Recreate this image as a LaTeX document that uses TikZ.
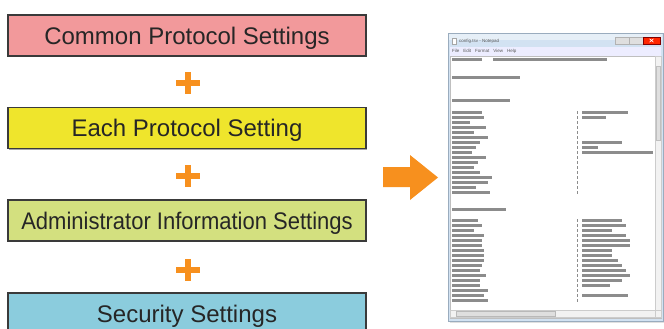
\documentclass[tikz,border=0pt]{standalone}
\usepackage{fontspec}
\setmainfont{Liberation Sans}
\usetikzlibrary{shadows}
\definecolor{pinkc}{HTML}{F2999B}
\definecolor{yellowc}{HTML}{EFE52C}
\definecolor{greenc}{HTML}{D3E07F}
\definecolor{bluec}{HTML}{8BCCDD}
\definecolor{orangec}{HTML}{F7901E}
\definecolor{borderc}{HTML}{3A3A3A}
\definecolor{framec}{HTML}{D2E2F2}
\definecolor{frameline}{HTML}{9AACBE}
\definecolor{txtc}{HTML}{8C8C8C}
\tikzset{
  setbox/.style={draw=borderc, line width=1.4pt, inner sep=0pt,
    minimum width=358pt, minimum height=41pt, text height=17.5pt, text depth=0pt,
    font=\fontsize{24}{28}\selectfont, text=black!85,
    drop shadow={shadow xshift=1pt, shadow yshift=-1pt, opacity=0.35, fill=black}},
  plusbar/.style={fill=orangec},
  txt/.style={fill=txtc},
  tiny/.style={font=\fontsize{4.5}{5}\selectfont, text=black!65, inner sep=0pt, anchor=west}
}
\begin{document}
\begin{tikzpicture}[x=1pt,y=-1pt]
\useasboundingbox (0,0) rectangle (664,329);
\clip (0,0) rectangle (664,329);
% boxes
\node[setbox, fill=pinkc]   (common) at (187,35.5)  {Common Protocol Settings};
\node[setbox, fill=yellowc] (each)   at (187,128)   {Each Protocol Setting};
\node[setbox, fill=greenc]  (admin)  at (187,220.5) {\scalebox{0.917}[1]{Administrator Information Settings}};
\node[setbox, fill=bluec]   (sec)    at (187,313.5) {Security Settings};
% plus signs
\foreach \py in {83,176,270} {
  \fill[plusbar] (176,\py-3) rectangle (200,\py+3);
  \fill[plusbar] (185,\py-11) rectangle (191,\py+11);
}
% big arrow
\fill[orangec] (383,167) -- (410,167) -- (410,155) -- (438,177.5) -- (410,200) -- (410,187) -- (383,187) -- cycle;
% notepad window
\fill[black, opacity=0.12] (449.5,34.5) rectangle (664,322.5);
\filldraw[fill=framec, draw=frameline, line width=0.6pt] (448,33) rectangle (663,321);
\fill[white, opacity=0.45] (449,34) rectangle (662,40);
% title icon and text
\filldraw[fill=white, draw=gray!70, line width=0.3pt] (452,38) rectangle (456,44);
\node[tiny] (title) at (459,41) {config.tsv - Notepad};
% window buttons
\filldraw[fill=gray!25, draw=gray!60, line width=0.3pt] (615,37) rectangle (629,44);
\filldraw[fill=gray!25, draw=gray!60, line width=0.3pt] (629,37) rectangle (643,44);
\filldraw[fill=red!70!orange, draw=red!50!black, line width=0.3pt] (643,37) rectangle (660,44);
\draw[white, line width=0.6pt] (649.5,38.8) -- (653.5,42.2) (649.5,42.2) -- (653.5,38.8);
% menu bar
\fill[white!93!blue] (450,47) rectangle (661,56);
\node[tiny] (menu) at (452,51.5) {File\hspace{4pt}Edit\hspace{4pt}Format\hspace{4pt}View\hspace{4pt}Help};
% text area
\filldraw[fill=white, draw=gray!50, line width=0.3pt] (450,56) rectangle (661,318);
% scrollbars
\filldraw[fill=gray!10, draw=gray!40, line width=0.3pt] (655,56) rectangle (661,310);
\filldraw[fill=gray!25, draw=gray!50, line width=0.3pt] (656,66) rectangle (660,140);
\filldraw[fill=gray!10, draw=gray!40, line width=0.3pt] (450,310) rectangle (655,317);
\filldraw[fill=gray!25, draw=gray!55, line width=0.3pt] (456,311) rectangle (555,316);
\filldraw[fill=gray!10, draw=gray!40, line width=0.3pt] (655,310) rectangle (661,317);
% header lines
\fill[txt] (452,58) rectangle (482,60.6);
\fill[txt] (493,58) rectangle (607,60.6);
\fill[txt] (452,76) rectangle (520,78.6);
\fill[txt] (452,99) rectangle (510,101.6);
\fill[txt] (452,208) rectangle (506,210.6);
% block 1
\foreach \w [count=\i from 0] in {30,32,18,34,22,36,28,24,20,34,26,22,28,40,36,24,38} {
  \fill[txt] (452,{111+5*\i}) rectangle ++(\w,2.6);
  \fill[txt] (577,{111+5*\i}) rectangle ++(1.4,2.6);
}
\foreach \i/\w in {0/46,1/24,6/40,7/16,8/71} {
  \fill[txt] (582,{111+5*\i}) rectangle ++(\w,2.6);
}
% block 2
\foreach \w [count=\i from 0] in {26,30,22,32,30,30,32,32,32,30,28,34,28,28,36,32,36} {
  \fill[txt] (452,{219+5*\i}) rectangle ++(\w,2.6);
  \fill[txt] (577,{219+5*\i}) rectangle ++(1.4,2.6);
}
\foreach \i/\w in {0/40,1/44,2/30,3/44,4/48,5/48,6/30,7/30,8/36,9/40,10/44,11/48,12/40,13/28,15/46} {
  \fill[txt] (582,{219+5*\i}) rectangle ++(\w,2.6);
}
\end{tikzpicture}
\end{document}
